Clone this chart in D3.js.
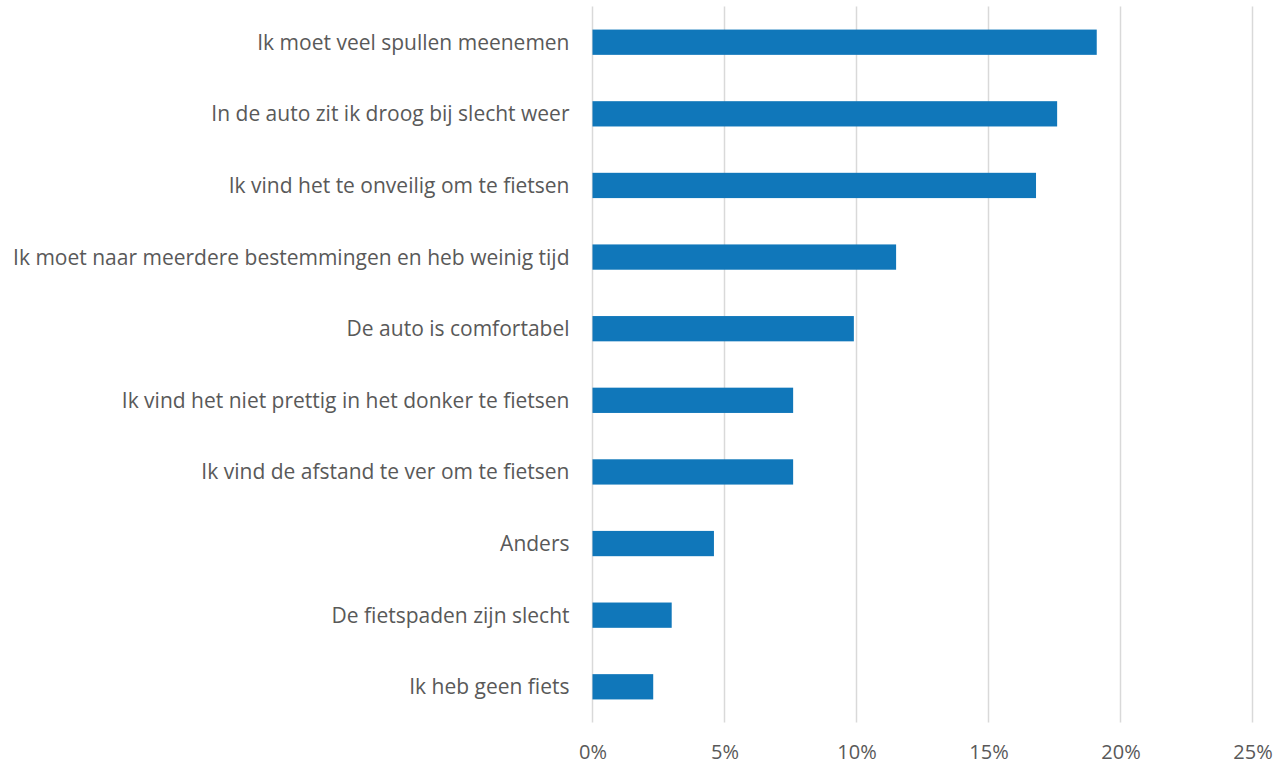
<!DOCTYPE html>
<html>
<head>
<meta charset="utf-8">
<script src="https://cdn.jsdelivr.net/npm/d3@7"></script>
<style>
html,body{margin:0;padding:0;background:#fff;}
svg{display:block;}
text{font-family:"Open Sans",sans-serif;fill:#595959;}
</style>
</head>
<body>
<svg id="chart" width="1276" height="765"></svg>
<script>
const categories = [
  "Ik moet veel spullen meenemen",
  "In de auto zit ik droog bij slecht weer",
  "Ik vind het te onveilig om te fietsen",
  "Ik moet naar meerdere bestemmingen en heb weinig tijd",
  "De auto is comfortabel",
  "Ik vind het niet prettig in het donker te fietsen",
  "Ik vind de afstand te ver om te fietsen",
  "Anders",
  "De fietspaden zijn slecht",
  "Ik heb geen fiets"
];
const values = [0.191, 0.176, 0.168, 0.115, 0.099, 0.076, 0.076, 0.046, 0.030, 0.023];
const tickValues = [0, 0.05, 0.10, 0.15, 0.20, 0.25];

(function () {
const svg = d3.select("#chart");
const mLeft = 592.5, mRight = 1252.5, mTop = 6.4, mBottom = 722.6;

const x = d3.scaleLinear().domain([0, 0.25]).range([mLeft, mRight]);
const y = d3.scaleBand().domain(categories).range([mTop, mBottom])
  .paddingInner(0.647).paddingOuter(0.3235);

// gridlines
svg.append("g").selectAll("line").data(tickValues).join("line")
  .attr("x1", d => x(d)).attr("x2", d => x(d))
  .attr("y1", mTop).attr("y2", mBottom)
  .attr("stroke", "#D9D9D9").attr("stroke-width", 1.5);

// bars
svg.append("g").selectAll("rect").data(values).join("rect")
  .attr("x", x(0))
  .attr("y", (d, i) => y(categories[i]))
  .attr("width", d => x(d) - x(0))
  .attr("height", y.bandwidth())
  .attr("fill", "#1077BA");

// category labels
svg.append("g").selectAll("text").data(categories).join("text")
  .attr("x", mLeft - 23)
  .attr("y", d => y(d) + y.bandwidth() / 2)
  .attr("dy", "0.36em")
  .attr("text-anchor", "end")
  .attr("font-size", 21)
  .text(d => d);

// x tick labels
const xAxis = d3.axisBottom(x).tickValues(tickValues).tickFormat(d3.format(".0%")).tickSize(0);
const gx = svg.append("g").attr("transform", `translate(0,${mBottom})`).call(xAxis);
gx.select(".domain").remove();
gx.selectAll("text")
  .attr("y", 36.4)
  .attr("dy", "0")
  .attr("font-size", 20)
  .style("font-family", "'Open Sans',sans-serif")
  .attr("fill", "#595959");
})();
</script>
</body>
</html>
